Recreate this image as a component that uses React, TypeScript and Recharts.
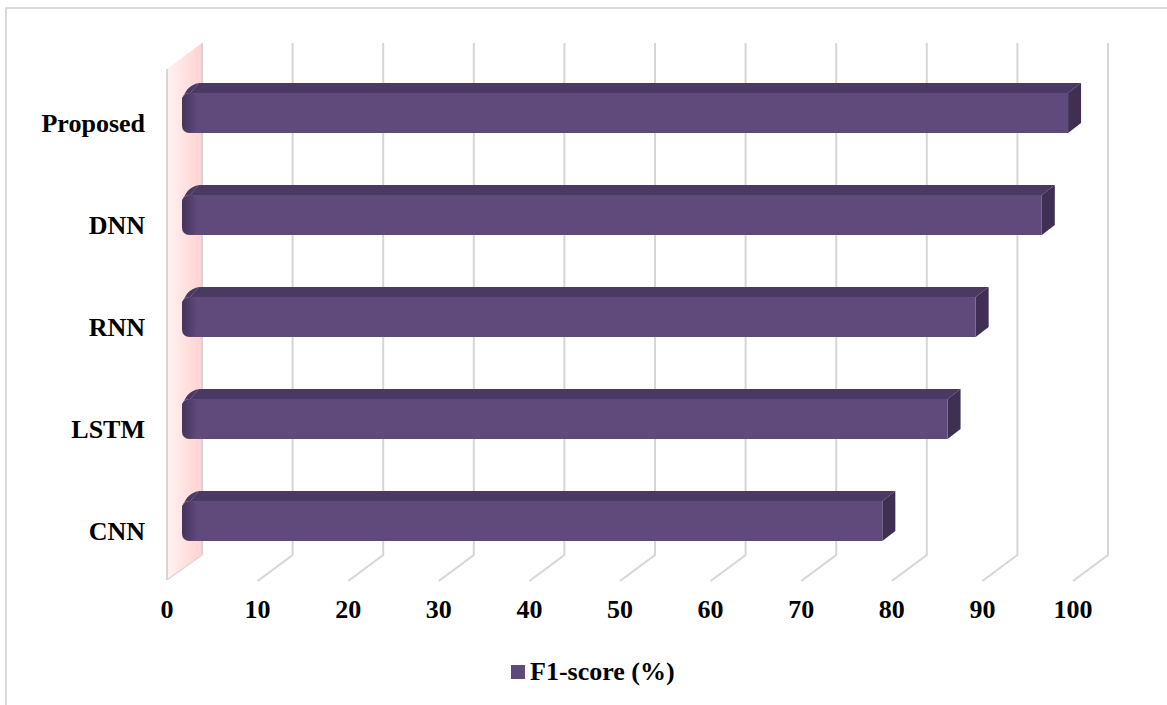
import React from 'react';
import { BarChart, Bar, XAxis, YAxis, CartesianGrid, Legend } from 'recharts';

const categories = ['Proposed', 'DNN', 'RNN', 'LSTM', 'CNN'];
const f1Scores = [97.8, 94.9, 87.6, 84.5, 77.3];
const xTicks = [0, 10, 20, 30, 40, 50, 60, 70, 80, 90, 100];
const seriesName = 'F1-score (%)';

const data = categories.map((c, i) => ({ name: c, f1: f1Scores[i] }));

const FONT = '"Liberation Serif", "Times New Roman", serif';
const FRONT = '#604a7b';
const TOP = '#4a3962';
const SIDE = '#3e2f53';
const DX = 13;
const DY = 10;
const BACK_DX = 20;
const FRONT_DX = -15;
const BACK_TOP_Y = 43;
const BACK_BOTTOM_Y = 555;
const FRONT_BOTTOM_Y = 581;

const Bar3D = (props: any) => {
  const { x, y, width, height } = props;
  if (width == null || width <= 0) return null;
  const x1 = x + width;
  const r = 8;
  const front = `M${x + r},${y} L${x1},${y} L${x1},${y + height} L${x + r},${y + height} Q${x},${y + height} ${x},${y + height - r} L${x},${y + r} Q${x},${y} ${x + r},${y} Z`;
  const top = `M${x + r},${y} L${x + r + DX - 4},${y - DY} L${x1 + DX},${y - DY} L${x1},${y} Z`;
  const topCap = `M${x},${y + r} Q${x},${y} ${x + r},${y} L${x + r + DX - 4},${y - DY} Q${x + 4},${y - DY + 2} ${x},${y + r} Z`;
  const side = `M${x1},${y} L${x1 + DX},${y - DY} L${x1 + DX},${y + height - DY} L${x1},${y + height} Z`;
  return (
    <g>
      <path d={top} fill={TOP} />
      <path d={topCap} fill={TOP} />
      <path d={side} fill={SIDE} />
      <path d={front} fill={FRONT} />
      <rect x={x} y={y} width={16} height={height} rx={8} fill="url(#leftShade)" />
    </g>
  );
};

const GridLine = (props: any) => {
  const { x1, index } = props;
  const bx = x1 + BACK_DX;
  const fx = x1 + FRONT_DX;
  const line = (
    <polyline
      key={`g${index}`}
      points={`${bx},${BACK_TOP_Y} ${bx},${BACK_BOTTOM_Y} ${fx},${FRONT_BOTTOM_Y}`}
      fill="none"
      stroke="#d6d6d6"
      strokeWidth={2}
    />
  );
  if (index === 0) {
    return (
      <g key={`g${index}`}>
        <polygon
          points={`${fx},69 ${bx},${BACK_TOP_Y} ${bx},${BACK_BOTTOM_Y} ${fx},${FRONT_BOTTOM_Y - 1}`}
          fill="url(#wallGrad)"
        />
        <line x1={fx} y1={69} x2={fx} y2={FRONT_BOTTOM_Y - 1} stroke="#d6d6d6" strokeWidth={2} />
        <line x1={fx} y1={FRONT_BOTTOM_Y - 1} x2={bx} y2={BACK_BOTTOM_Y} stroke="#e4d0d0" strokeWidth={1.5} />
        <line x1={bx} y1={BACK_TOP_Y} x2={bx} y2={BACK_BOTTOM_Y} stroke="#d6d6d6" strokeWidth={2} />
      </g>
    );
  }
  return line;
};

const XTick = (props: any) => {
  const { x, y, payload } = props;
  return (
    <text x={x + FRONT_DX} y={y + 38} textAnchor="middle" fontFamily={FONT} fontWeight="bold" fontSize={26} fill="#000">
      {payload.value}
    </text>
  );
};

const YTick = (props: any) => {
  const { x, y, payload } = props;
  return (
    <text x={x - 29} y={y + 19} textAnchor="end" fontFamily={FONT} fontWeight="bold" fontSize={26} fill="#000">
      {payload.value}
    </text>
  );
};

const LegendContent = () => (
  <div style={{ display: 'flex', alignItems: 'center', fontFamily: FONT, fontWeight: 'bold', fontSize: 26, color: '#000', lineHeight: '30px' }}>
    <span style={{ display: 'inline-block', width: 14, height: 14, background: FRONT, marginRight: 5 }} />
    <span>{seriesName}</span>
  </div>
);

export default function App() {
  return (
    <div style={{ position: 'absolute', left: 0, top: 0, width: 1167, height: 705, background: '#fff' }}>
      <div style={{ position: 'absolute', left: 5, top: 7, width: 1162, height: 698, borderTop: '2px solid #d9d9d9', borderLeft: '2px solid #d9d9d9', boxSizing: 'border-box' }} />
      <BarChart
        width={1167}
        height={705}
        data={data}
        layout="vertical"
        margin={{ top: 62, right: 79, bottom: 73, left: 32 }}
        barCategoryGap={0}
      >
        <defs>
          <linearGradient id="wallGrad" x1="0" y1="0" x2="1" y2="0">
            <stop offset="0%" stopColor="#fff2f2" />
            <stop offset="100%" stopColor="#ffd2d2" />
          </linearGradient>
          <linearGradient id="leftShade" x1="0" y1="0" x2="1" y2="0">
            <stop offset="0%" stopColor="#2a1c3d" stopOpacity={0.5} />
            <stop offset="100%" stopColor="#2a1c3d" stopOpacity={0} />
          </linearGradient>
        </defs>
        <CartesianGrid horizontal={false} vertical={GridLine as any} />
        <XAxis
          type="number"
          domain={[0, 100]}
          ticks={xTicks}
          height={30}
          axisLine={false}
          tickLine={false}
          tick={<XTick />}
          interval={0}
        />
        <YAxis
          type="category"
          dataKey="name"
          width={150}
          axisLine={false}
          tickLine={false}
          tick={<YTick />}
          interval={0}
        />
        <Bar dataKey="f1" name={seriesName} barSize={40} shape={<Bar3D />} isAnimationActive={false} />
        <Legend content={<LegendContent />} wrapperStyle={{ position: 'absolute', left: 511, top: 657, width: 'auto', bottom: 'auto' }} />
      </BarChart>
    </div>
  );
}
